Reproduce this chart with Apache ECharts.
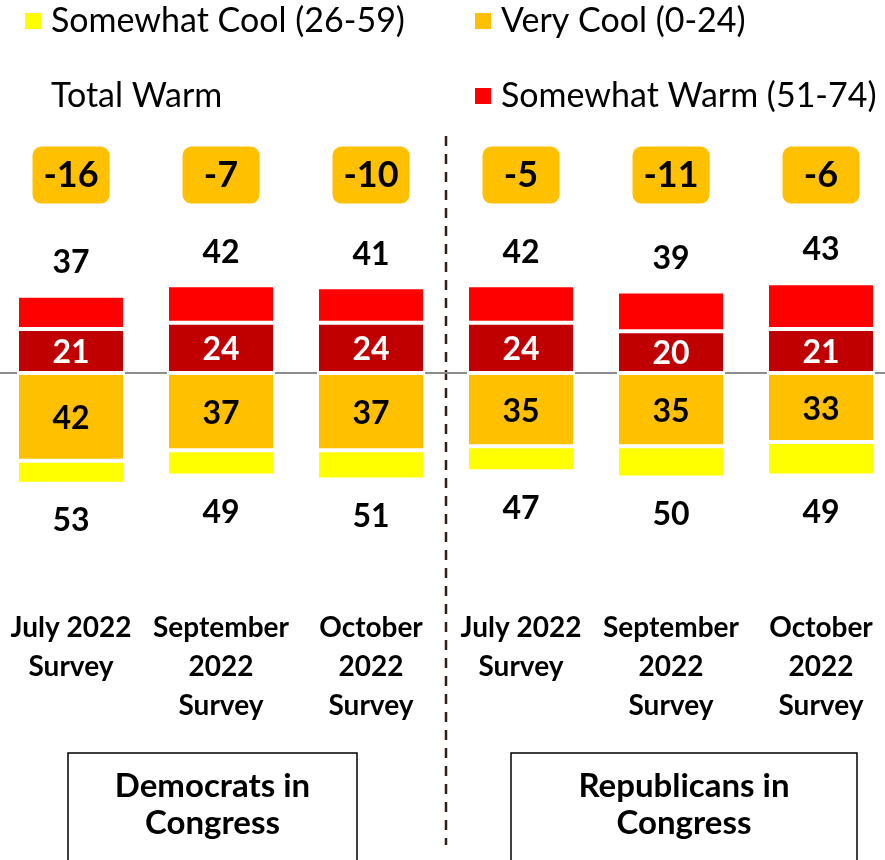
<!DOCTYPE html>
<html>
<head>
<meta charset="utf-8">
<script src="https://cdn.jsdelivr.net/npm/echarts@6/dist/echarts.min.js"></script>
<style>
html,body{margin:0;padding:0;background:#fff;}
#chart{width:885px;height:860px;}
</style>
</head>
<body>
<div id="chart"></div>
<script>
const categories = ['July 2022\nSurvey', 'September\n2022\nSurvey', 'October\n2022\nSurvey',
                    'July 2022\nSurvey', 'September\n2022\nSurvey', 'October\n2022\nSurvey'];
const veryWarm = [21, 24, 24, 24, 20, 21];
const somewhatWarm = [16, 18, 17, 18, 19, 22];
const veryCool = [42, 37, 37, 35, 35, 33];
const somewhatCool = [11, 12, 14, 12, 15, 16];
const totalWarm = [37, 42, 41, 42, 39, 43];
const totalCool = [53, 49, 51, 47, 50, 49];
const netScore = [-16, -7, -10, -5, -11, -6];
const groupNames = ['Democrats in\nCongress', 'Republicans in\nCongress'];

const FONT = 'Lato, "Open Sans", sans-serif';
const NET_Y = 94.7;

const chart = echarts.init(document.getElementById('chart'), null, {renderer: 'canvas'});

const barBase = {
  type: 'bar', stack: 'fav', barWidth: 108,
  itemStyle: {borderColor: '#ffffff', borderWidth: 2}
};
const hiddenPoint = {color: 'transparent', opacity: 1};

chart.setOption({
  animation: false,
  backgroundColor: '#ffffff',
  textStyle: {fontFamily: FONT},
  grid: {left: -4, width: 900, top: 164, height: 418, containLabel: false, outerBoundsMode: 'none'},
  legend: [
    {
      orient: 'vertical', left: 23, top: 1, padding: 0,
      itemWidth: 18, itemHeight: 18, itemGap: 35,
      textStyle: {fontFamily: FONT, fontSize: 34, color: '#000', lineHeight: 40, padding: [0, 0, 0, 4]},
      data: [{name: 'Somewhat Cool (26-59)', icon: 'rect'}, {name: 'Total Warm', icon: 'none'}]
    },
    {
      orient: 'vertical', left: 473, top: 1, padding: 0,
      itemWidth: 18, itemHeight: 18, itemGap: 35,
      textStyle: {fontFamily: FONT, fontSize: 34, color: '#000', lineHeight: 40, padding: [0, 0, 0, 4]},
      data: [{name: 'Very Cool (0-24)', icon: 'rect'}, {name: 'Somewhat Warm (51-74)', icon: 'rect'}]
    }
  ],
  xAxis: {
    type: 'category', data: categories,
    axisLine: {show: true, onZero: true, lineStyle: {color: '#8c8c8c', width: 2}},
    axisTick: {show: false},
    splitLine: {show: false},
    axisLabel: {
      interval: 0, margin: 26, color: '#000', fontFamily: FONT,
      fontSize: 28, fontWeight: 'bold', lineHeight: 39, align: 'center'
    }
  },
  yAxis: {type: 'value', min: -100, max: 100, show: false, splitLine: {show: false}},
  series: [
    Object.assign({}, barBase, {
      name: 'Very Warm (75-100)', data: veryWarm,
      itemStyle: {color: '#C00000', borderColor: '#fff', borderWidth: 2},
      label: {show: true, position: 'inside', color: '#fff', fontSize: 32, fontWeight: 'bold', fontFamily: FONT, offset: [0, 2]}
    }),
    Object.assign({}, barBase, {
      name: 'Somewhat Warm (51-74)', data: somewhatWarm,
      itemStyle: {color: '#FF0000', borderColor: '#fff', borderWidth: 2}
    }),
    Object.assign({}, barBase, {
      name: 'Very Cool (0-24)', data: veryCool.map(v => -v),
      itemStyle: {color: '#FFC000', borderColor: '#fff', borderWidth: 2},
      label: {show: true, position: 'inside', color: '#000', fontSize: 32, fontWeight: 'bold', fontFamily: FONT,
        formatter: p => Math.abs(p.value), offset: [0, 2]}
    }),
    Object.assign({}, barBase, {
      name: 'Somewhat Cool (26-59)', data: somewhatCool.map(v => -v),
      itemStyle: {color: '#FFFF00', borderColor: '#fff', borderWidth: 2}
    }),
    {
      name: 'Total Warm', type: 'scatter', data: totalWarm, symbolSize: 0,
      itemStyle: hiddenPoint,
      label: {show: true, position: 'top', distance: 17, color: '#000', fontSize: 32, fontWeight: 'bold', fontFamily: FONT}
    },
    {
      name: 'Total Cool', type: 'scatter', data: totalCool.map(v => -v), symbolSize: 0,
      itemStyle: hiddenPoint,
      label: {show: true, position: 'bottom', distance: 21, color: '#000', fontSize: 32, fontWeight: 'bold', fontFamily: FONT,
        formatter: p => Math.abs(p.value)}
    },
    {
      name: 'Net', type: 'scatter', symbolSize: 0,
      data: netScore.map((v, i) => [i, NET_Y, v]),
      itemStyle: hiddenPoint,
      label: {
        show: true, position: 'inside', formatter: p => String(p.value[2]),
        backgroundColor: '#FFC000', borderRadius: 9, width: 77, height: 57, lineHeight: 57,
        align: 'center', verticalAlign: 'middle',
        color: '#000', fontSize: 36, fontWeight: 'bold', fontFamily: FONT
      }
    }
  ],
  graphic: [
    {type: 'line', silent: true, shape: {x1: 446, y1: 136, x2: 446, y2: 845},
     style: {stroke: '#2e2018', lineWidth: 2.5, lineDash: [10, 8]}},
    {type: 'rect', silent: true, shape: {x: 68, y: 753, width: 289, height: 130},
     style: {fill: 'none', stroke: '#000', lineWidth: 1.5}},
    {type: 'rect', silent: true, shape: {x: 511, y: 753, width: 346, height: 130},
     style: {fill: 'none', stroke: '#000', lineWidth: 1.5}},
    {type: 'text', silent: true, x: 212.5, y: 768,
     style: {text: groupNames[0], align: 'center', verticalAlign: 'top', fill: '#000',
       font: 'bold 33px ' + FONT, lineHeight: 37}},
    {type: 'text', silent: true, x: 684, y: 768,
     style: {text: groupNames[1], align: 'center', verticalAlign: 'top', fill: '#000',
       font: 'bold 33px ' + FONT, lineHeight: 37}}
  ]
});
</script>
</body>
</html>
